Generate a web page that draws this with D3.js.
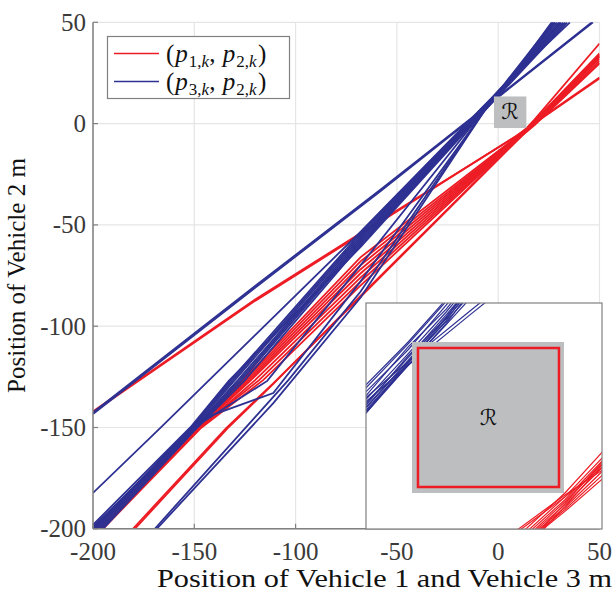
<!DOCTYPE html>
<html><head><meta charset="utf-8">
<script src="https://cdn.jsdelivr.net/npm/d3@7"></script>
<style>body{margin:0;background:#fff}svg{display:block}
.serif{font-family:"Liberation Serif","Times New Roman",serif}
.cal{font-family:"DejaVu Serif","DejaVu Sans",serif}
</style>
</head><body><svg id="c" width="614" height="601"></svg>
<script>
// ---------- data ----------
const xTicks = [-200, -150, -100, -50, 0, 50];
const yTicks = [-200, -150, -100, -50, 0, 50];
const xTitle = "Position of Vehicle 1 and Vehicle 3 m";
const yTitle = "Position of Vehicle 2 m";
const legendSub = [["1", "2"], ["3", "2"]];
const regionLabel = "\u211B";
// region R (red square) and its shaded neighbourhood [x0,x1,y0,y1]
const regionR = [-1.47, 13.37, -1.58, 12.78];
const regionShade = [-2.1, 13.9, -2.2, 13.4];
const insetDomainX = [-6.94, 17.9];
const insetDomainY = [-5.92, 17.43];

// trajectories (p3,k , p2,k) - blue
const blueTracks = [
  [[-200,-142.5],[-120,-80.2],[-58,-32.5],[-7,7.6],[-2.5,11.4],[4,16.6],[46.2,50]],
  [[-200,-143.3],[-120,-81],[-58,-33.3],[-7,7.2],[-2.5,11],[4,16.2],[46.8,50]],
  [[-200,-182.3],[-167,-150.4],[-68,-53.5],[-7,8.9],[-2.5,13.4],[1.5,17.8],[35.4,50]],
  [[-200,-200],[-151.5,-150],[-132,-126.6],[-68,-54],[-7,8.6],[-2.5,13.2],[1.5,17.6],[27,50]],
  [[-199,-200],[-151,-150],[-131,-126.6],[-68,-55],[-7,8.2],[-2.5,12.6],[1.5,17.2],[28,50]],
  [[-198,-200],[-150.5,-150],[-130,-126.6],[-68,-56],[-7,7.8],[-2.5,12.9],[1.5,16.8],[29,50]],
  [[-197,-200],[-150,-150],[-128.5,-126.6],[-68,-57],[-7,7.4],[-2.5,12.2],[1.5,16.5],[30,50]],
  [[-200,-199],[-150,-150.5],[-127.5,-126.6],[-68,-58],[-7,7.0],[-2.5,11.8],[1.5,16.2],[31,50]],
  [[-196,-200],[-149,-150],[-126.5,-126.6],[-68,-59],[-7,6.8],[-2.5,12.0],[1.5,15.8],[32,50]],
  [[-195,-200],[-148.5,-150],[-125,-126.6],[-68,-60],[-7,6.5],[-2.5,11.4],[1.5,15.5],[33,50]],
  [[-200,-198],[-152,-150],[-133,-127],[-68,-61],[-7,6.2],[-2.5,11.0],[1.5,15.2],[34,50]],
  [[-200,-200],[-147,-148],[-114,-127],[-68,-70],[-7,6.6],[-2.5,11.5],[1.5,16],[30.5,50]],
  [[-199,-200],[-146,-145.6],[-111,-133],[-68,-78],[-7,6.0],[-2.5,11],[1.5,15.3],[28,50]],
  [[-169.5,-200],[-103.7,-126.7],[-68,-83],[-7,6.3],[-2.5,11.2],[1.5,15.9],[26.4,50]],
  [[-168.5,-200],[-111,-138],[-68,-86],[-7,6.0],[-2.5,11.3],[1.5,15.6],[27,50]]
];
// trajectories (p1,k , p2,k) - red
const redTracks = [
  [[-200,-142.5],[-120,-87.5],[-58,-48.5],[9,-6],[14,-2.4],[18,0.2],[50,22.2]],
  [[-200,-142],[-120,-86.8],[-58,-47.8],[9.3,-6],[14,-2.6],[18,0.5],[50,22.8]],
  [[-180.3,-200],[-134.4,-150.4],[-111.2,-128.3],[-68,-85.6],[11.7,-6],[14,-3.6],[18,0.8],[50,33]],
  [[-179.3,-200],[-133.6,-150.4],[-110.5,-128],[-68,-85],[11.4,-6],[14,-3.3],[18,1.1],[50,33.5]],
  [[-200,-200],[-149.5,-150.5],[-126,-126.6],[-68,-66],[9.8,-6],[14,-2.2],[18,2.1],[50,39.5]],
  [[-199,-200],[-149,-150],[-125,-126.6],[-68,-68],[10.2,-6],[14,-2.6],[18,1.5],[50,34.6]],
  [[-198,-200],[-148.5,-150],[-124,-126.6],[-68,-70],[10.5,-6],[14,-2.9],[18,1.2],[50,34]],
  [[-200,-199.5],[-148.5,-150.5],[-123,-126.6],[-68,-72],[10.8,-6],[14,-3.1],[18,0.9],[50,33]],
  [[-197,-200],[-148,-150.5],[-122,-126.6],[-68,-74],[11,-6],[14,-3.4],[18,0.5],[50,32]],
  [[-196,-200],[-147.5,-150.5],[-120,-126.6],[-68,-76],[11.2,-6],[14,-3.7],[18,0.1],[50,31]],
  [[-200,-199],[-147.5,-150],[-118,-126.6],[-68,-78],[11.4,-6],[14,-3.9],[18,-0.3],[50,30]],
  [[-195,-200],[-147,-150.5],[-116,-126.6],[-68,-80],[11.6,-6],[14,-4.1],[18,-0.7],[50,29.7]]
];

// ---------- drawing ----------
const RED = "#ED1C24", BLUE = "#2E3192", AX = "#808080", GRID = "#e5e5e5", SHADE = "#BCBEC0";
const svg = d3.select("#c");
const x = d3.scaleLinear().domain([-200, 50]).range([93, 599.5]);
const y = d3.scaleLinear().domain([-200, 50]).range([528.8, 22.3]);

// grid
svg.append("g").selectAll("line").data(xTicks).join("line")
  .attr("x1", d => x(d)).attr("x2", d => x(d)).attr("y1", y(-200)).attr("y2", y(50))
  .attr("stroke", GRID).attr("stroke-width", 1.2);
svg.append("g").selectAll("line").data(yTicks).join("line")
  .attr("y1", d => y(d)).attr("y2", d => y(d)).attr("x1", x(-200)).attr("x2", x(50))
  .attr("stroke", GRID).attr("stroke-width", 1.2);

// clip
svg.append("clipPath").attr("id", "pc").append("rect")
  .attr("x", x(-200)).attr("y", y(50)).attr("width", x(50) - x(-200)).attr("height", y(-200) - y(50));

const line = d3.line().x(d => x(d[0])).y(d => y(d[1]));
const gl = svg.append("g").attr("clip-path", "url(#pc)");
gl.selectAll("path.r").data(redTracks).join("path").attr("class", "r")
  .attr("d", line).attr("fill", "none").attr("stroke", RED).attr("stroke-width", 1.8);
gl.selectAll("path.b").data(blueTracks).join("path").attr("class", "b")
  .attr("d", line).attr("fill", "none").attr("stroke", BLUE).attr("stroke-width", 1.8);

// region label in main plot
svg.append("rect").attr("x", x(regionShade[0])).attr("y", y(regionShade[3]))
  .attr("width", x(regionShade[1]) - x(regionShade[0])).attr("height", y(regionShade[2]) - y(regionShade[3]))
  .attr("fill", SHADE);
svg.append("text").attr("class", "cal").attr("x", x((regionShade[0] + regionShade[1]) / 2)).attr("y", y((regionShade[2] + regionShade[3]) / 2) + 7)
  .attr("text-anchor", "middle").attr("font-style", "italic")
  .attr("font-size", 22).attr("fill", "#111").text(regionLabel);

// axes lines
svg.append("line").attr("x1", x(-200)).attr("x2", x(-200)).attr("y1", y(-200)).attr("y2", y(50)).attr("stroke", AX).attr("stroke-width", 1.5);
svg.append("line").attr("x1", x(-200)).attr("x2", x(50)).attr("y1", y(-200)).attr("y2", y(-200)).attr("stroke", AX).attr("stroke-width", 1.5);
// ticks (inward)
svg.append("g").selectAll("line").data(yTicks).join("line")
  .attr("x1", x(-200)).attr("x2", x(-200) + 5).attr("y1", d => y(d)).attr("y2", d => y(d)).attr("stroke", AX).attr("stroke-width", 1.2);
svg.append("g").selectAll("line").data(xTicks).join("line")
  .attr("x1", d => x(d)).attr("x2", d => x(d)).attr("y1", y(-200)).attr("y2", y(-200) - 5).attr("stroke", AX).attr("stroke-width", 1.2);

// tick labels
svg.append("g").selectAll("text").data(xTicks).join("text").attr("class", "serif")
  .attr("x", d => x(d)).attr("y", 560).attr("text-anchor", "middle")
  .attr("font-size", 25).attr("fill", "#3a3a3a").text(d => String(d));
svg.append("g").selectAll("text").data(yTicks).join("text").attr("class", "serif")
  .attr("x", 86).attr("y", d => y(d) + 8.5).attr("text-anchor", "end")
  .attr("font-size", 25).attr("fill", "#3a3a3a").text(d => String(d));

// titles
svg.append("text").attr("class", "serif").attr("x", 157).attr("y", 587).attr("font-size", 25)
  .attr("fill", "#111").attr("textLength", 455).attr("lengthAdjust", "spacingAndGlyphs").text(xTitle);
svg.append("text").attr("class", "serif").attr("transform", "translate(25,393) rotate(-90)").attr("font-size", 25)
  .attr("fill", "#111").attr("textLength", 235).attr("lengthAdjust", "spacingAndGlyphs").text(yTitle);

// legend
const lg = svg.append("g");
lg.append("rect").attr("x", 107.5).attr("y", 36.5).attr("width", 182).attr("height", 62)
  .attr("fill", "#fff").attr("stroke", AX).attr("stroke-width", 1.2);
[RED, BLUE].forEach((c, i) => {
  const yy = 53.5 + i * 28;
  lg.append("line").attr("x1", 114).attr("x2", 159).attr("y1", yy).attr("y2", yy).attr("stroke", c).attr("stroke-width", 1.5);
  const t = lg.append("text").attr("class", "serif").attr("x", 166).attr("y", yy + 8).attr("font-size", 25).attr("fill", "#111");
  t.append("tspan").text("(");
  legendSub[i].forEach((s, j) => {
    if (j > 0) t.append("tspan").attr("dy", -5).text(", ");
    t.append("tspan").attr("font-style", "italic").attr("dx", 1).text("p");
    t.append("tspan").attr("font-size", 17).attr("dy", 5).attr("dx", 1).text(s + ",");
    t.append("tspan").attr("font-size", 17).attr("font-style", "italic").text("k");
  });
  t.append("tspan").attr("dy", -5).attr("dx", 1.5).text(")");
});

// ---------- inset ----------
const ix = d3.scaleLinear().domain(insetDomainX).range([366, 602]);
const iy = d3.scaleLinear().domain(insetDomainY).range([529, 303]);
svg.append("clipPath").attr("id", "ic").append("rect")
  .attr("x", 366).attr("y", 303).attr("width", 236).attr("height", 226);
svg.append("rect").attr("x", 366).attr("y", 303).attr("width", 236).attr("height", 226).attr("fill", "#fff");
const il = d3.line().x(d => ix(d[0])).y(d => iy(d[1]));
const ig = svg.append("g").attr("clip-path", "url(#ic)");
ig.selectAll("path.b").data(blueTracks).join("path").attr("class", "b")
  .attr("d", il).attr("fill", "none").attr("stroke", BLUE).attr("stroke-width", 1.2);
ig.selectAll("path.r").data(redTracks).join("path").attr("class", "r")
  .attr("d", il).attr("fill", "none").attr("stroke", RED).attr("stroke-width", 1.2);
ig.append("rect").attr("x", ix(regionShade[0])).attr("y", iy(regionShade[3]))
  .attr("width", ix(regionShade[1]) - ix(regionShade[0])).attr("height", iy(regionShade[2]) - iy(regionShade[3]))
  .attr("fill", SHADE);
ig.append("rect").attr("x", ix(regionR[0])).attr("y", iy(regionR[3]))
  .attr("width", ix(regionR[1]) - ix(regionR[0])).attr("height", iy(regionR[2]) - iy(regionR[3]))
  .attr("fill", "none").attr("stroke", RED).attr("stroke-width", 2.5);
ig.append("text").attr("class", "cal").attr("x", ix((regionR[0] + regionR[1]) / 2)).attr("y", iy((regionR[2] + regionR[3]) / 2) + 7)
  .attr("text-anchor", "middle").attr("font-style", "italic")
  .attr("font-size", 22).attr("fill", "#111").text(regionLabel);
svg.append("rect").attr("x", 366).attr("y", 303).attr("width", 236).attr("height", 226)
  .attr("fill", "none").attr("stroke", AX).attr("stroke-width", 1.2);
</script></body></html>
